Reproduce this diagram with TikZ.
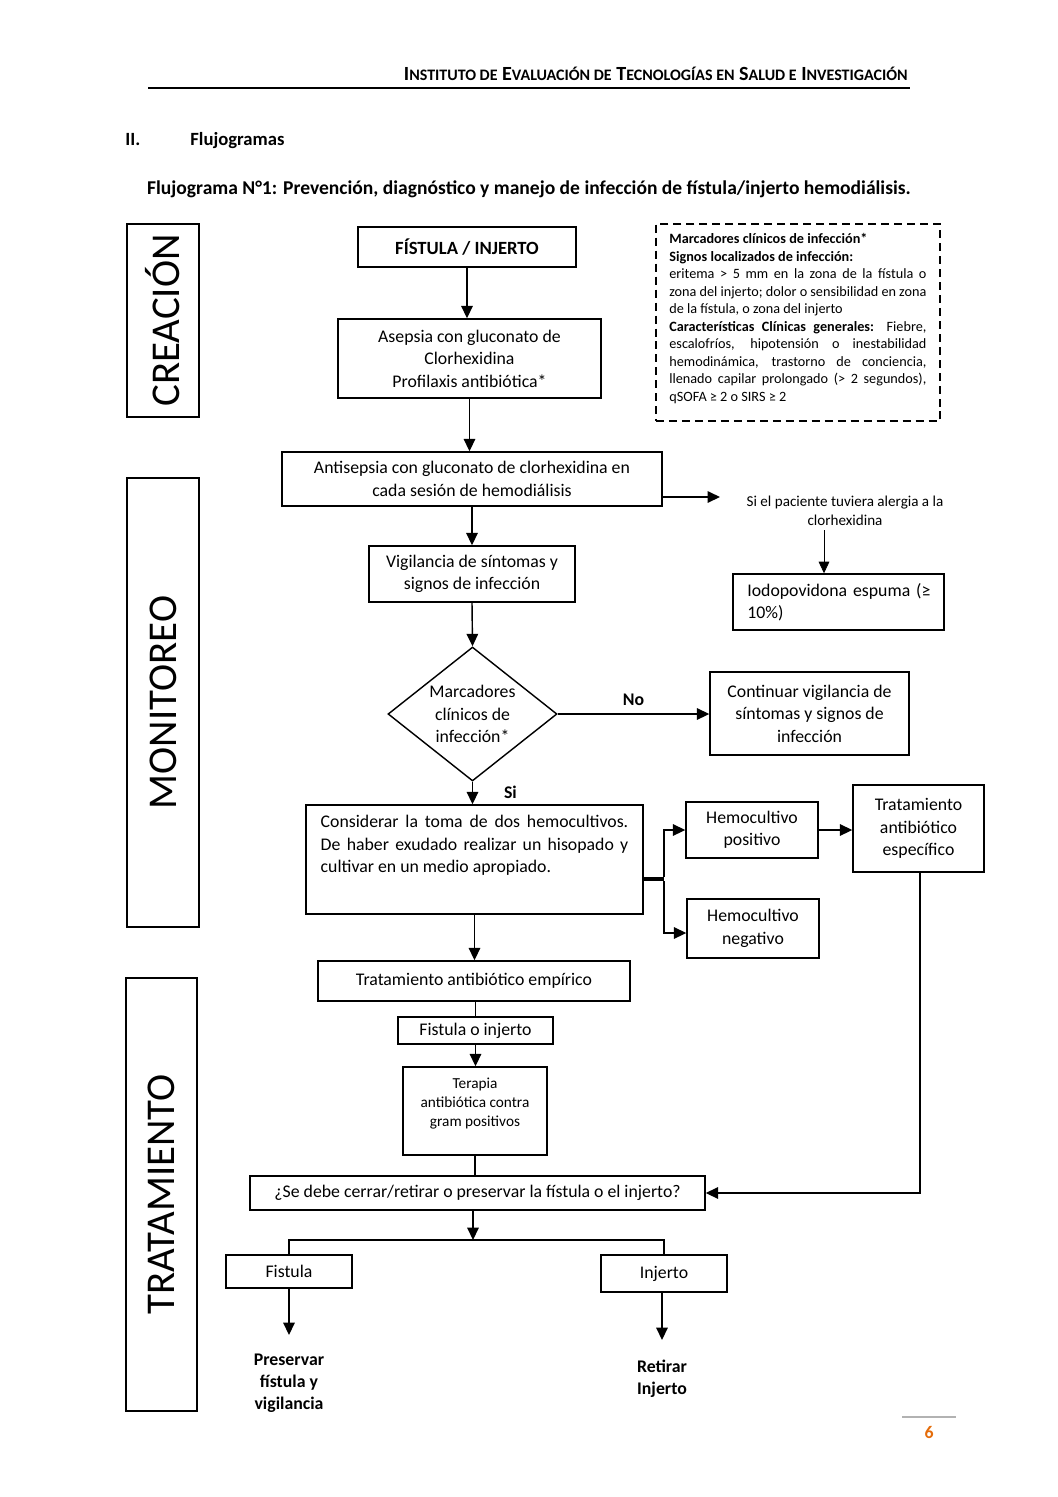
\documentclass[tikz,border=0pt]{standalone}
\usepackage{fontspec}
\setmainfont{Carlito}
\usetikzlibrary{arrows.meta,shapes.geometric,calc}
\newcommand\fsc[2]{#1{\fontsize{9}{10}\selectfont #2}}
\definecolor{pgorange}{RGB}{228,108,10}
\begin{document}
\begin{tikzpicture}[x=0.5625pt,y=-0.5625pt,
  font=\fontsize{10}{12.6}\selectfont,
  box/.style={draw, line width=0.8pt, align=center, inner sep=2pt},
  bx/.style 2 args={minimum width=#1*0.5625pt, minimum height=#2*0.5625pt},
  arr/.style={line width=0.8pt, -{Triangle[width=6.5pt,length=7pt]}},
  tarr/.style={line width=0.4pt, -{Triangle[width=6pt,length=6.5pt]}},
  ln/.style={line width=0.8pt},
  side/.style={draw, line width=0.8pt, rotate=90, font=\fontsize{23}{27}\selectfont, inner sep=0pt},
  plain/.style={align=center, inner sep=0pt},
]
\useasboundingbox (0,0) rectangle (1058,1497);

% header
\node[anchor=base east, inner sep=0pt, font=\fontsize{11.3}{12}\bfseries] (hdr) at (908,80)
 {\fsc{I}{NSTITUTO DE} \fsc{E}{VALUACIÓN DE} \fsc{T}{ECNOLOGÍAS EN} \fsc{S}{ALUD E} \fsc{I}{NVESTIGACIÓN}};
\coordinate (hl) at (148,88);
\coordinate (hr) at (910,88);
\draw[line width=1.1pt] (hl) -- (hr);
\node[anchor=base west, inner sep=0pt, font=\fontsize{10.5}{12}\bfseries] (secn) at (125,145) {II.};
\node[anchor=base west, inner sep=0pt, font=\fontsize{10.5}{12}\bfseries] (sect) at (190,145) {Flujogramas};
\node[anchor=base, inner sep=0pt, font=\fontsize{11}{13}\bfseries] (title) at (529,194)
 {Flujograma N°1: Prevención, diagnóstico y manejo de infección de fístula/injerto hemodiálisis.};

% side labels
\node[side, bx={193}{72}] (crea) at (163,320.5) {CREACIÓN};
\node[side, bx={449}{72}] (moni) at (163,702.5) {MONITOREO};
\node[side, bx={433}{71}] (trat) at (161.5,1194.5) {TRATAMIENTO};

% boxes
\node[box, bx={218}{40}, font=\fontsize{10.5}{12.6}\bfseries] (fi) at (467,247) {FÍSTULA / INJERTO};
\node[box, bx={263}{79}] (asep) at (469.5,358.5) {Asepsia con gluconato de\\Clorhexidina\\Profilaxis antibiótica*};
\node[draw, line width=0.85pt, dash pattern=on 4.5pt off 2.8pt, bx={284}{197}] (marc) at (798,322.5) {};
\node[anchor=north west, inner sep=0pt, text width=144.6pt, align=justify, font=\fontsize{8}{9.85}\selectfont] (marct) at (669,233)
 {\textbf{Marcadores clínicos de infección*}\\
  \textbf{Signos localizados de infección:}\\
  eritema > 5 mm en la zona de la fístula o zona del injerto; dolor o sensibilidad en zona de la fístula, o zona del injerto\\
  \textbf{Características Clínicas generales:} Fiebre, escalofríos, hipotensión o inestabilidad hemodinámica, trastorno de conciencia, llenado capilar prolongado (> 2 segundos), qSOFA ≥ 2 o SIRS ≥ 2};
\node[box, bx={380}{54}] (anti) at (472,479) {Antisepsia con gluconato de clorhexidina en\\cada sesión de hemodiálisis};
\node[plain, font=\fontsize{8.5}{10.8}\selectfont] (alerg) at (845,511) {Si el paciente tuviera alergia a la\\clorhexidina};
\coordinate (alergin) at (720,497);
\node[box, bx={211}{56}] (iodo) at (838.5,602) {};
\node[anchor=north west, inner sep=0pt, text width=103pt, align=justify] (iodot) at (747,583) {Iodopovidona espuma (≥ 10\%)};
\node[box, bx={206}{56}] (vig) at (472,574) {Vigilancia de síntomas y\\signos de infección};
\node[draw, line width=0.8pt, diamond, aspect=1.26, inner sep=0pt, bx={169}{134}, align=center] (dia) at (472.5,714) {Marcadores\\clínicos de\\infección*};
\node[box, bx={199}{83}] (cont) at (809.5,713.5) {Continuar vigilancia de\\síntomas y signos de\\infección};
\node[box, bx={337}{109}] (cons) at (474.5,859.5) {};
\node[anchor=north, inner sep=0pt, text width=173pt, align=justify] (const) at (474.5,815)
 {Considerar la toma de dos hemocultivos. De haber exudado realizar un hisopado y cultivar en un medio apropiado.};
\node[box, bx={132}{56}] (hpos) at (752,830) {Hemocultivo\\positivo};
\node[box, bx={132}{59}] (hneg) at (753,928.5) {Hemocultivo\\negativo};
\node[box, bx={131}{87}] (tesp) at (918.5,828.5) {Tratamiento\\antibiótico\\específico};
\node[box, bx={312}{40}] (temp) at (474,981) {Tratamiento antibiótico empírico};
\node[box, bx={155}{27}] (foi) at (475.5,1030.5) {Fistula o injerto};
\node[box, bx={144}{88}] (ter) at (475,1111) {};
\node[anchor=north, plain, font=\fontsize{8.6}{10.7}\selectfont] (tert) at (475,1078) {Terapia\\antibiótica contra\\gram positivos};
\node[box, bx={455}{34}] (sedebe) at (477.5,1193) {¿Se debe cerrar/retirar o preservar la fístula o el injerto?};
\node[box, bx={126}{33}] (fist) at (289,1271.5) {Fistula};
\node[box, bx={126}{37}] (inj) at (664,1273.5) {Injerto};
\node[plain, font=\fontsize{10}{12.4}\bfseries, anchor=north] (pres) at (289,1354) {Preservar\\fístula y\\vigilancia};
\node[plain, font=\fontsize{10}{12.4}\bfseries, anchor=north] (ret) at (662,1360) {Retirar\\Injerto};

% connectors
\draw[arr] (fi.south) -- (fi.south |- asep.north);
\draw[arr] (asep.south) -- (asep.south |- anti.north);
\draw[arr] (anti.south) -- (anti.south |- vig.north);
\draw[arr] (anti.east |- alergin) -- (alergin);
\coordinate (alergout) at (824,530);
\draw[tarr] (alergout) -- (alergout |- iodo.north);
\draw[arr] (vig.south) -- (dia.north);
\draw[arr] (dia.east) -- node[above=1pt, font=\fontsize{10}{12}\bfseries] (nolab) {No} (cont.west |- dia.east);
\draw[arr] (dia.south) -- node[right=14pt, pos=0.45, font=\fontsize{10}{12}\bfseries] (silab) {Si} (dia.south |- cons.north);
\coordinate (br) at (664,879);
\draw[line width=2.4pt] (cons.east |- br) -- (br);
\draw[arr] (664,877) |- (hpos.west);
\draw[arr] (664,881) |- (hneg.west |- 0,933);
\draw[arr] (hpos.east) -- (tesp.west |- hpos.east);
\draw[arr] (tesp.south -| 920,0) |- (sedebe.east);
\draw[arr] (cons.south) -- (cons.south |- temp.north);
\draw[ln] (temp.south -| foi.north) -- (foi.north);
\draw[arr] (foi.south) -- (foi.south |- ter.north);
\draw[ln] (ter.south) -- (ter.south |- sedebe.north);
\coordinate (split) at (473,1240);
\draw[arr] (sedebe.south -| split) -- (split);
\draw[ln] (fist.north) -- (fist.north |- split) -- (inj.north |- split) -- (inj.north);
\draw[arr] (fist.south) -- ($(pres.north)+(0,-19)$);
\draw[arr] (inj.south -| ret.north) -- ($(ret.north)+(0,-20)$);

% page number
\coordinate (pl) at (902,1417);
\coordinate (pr) at (956,1417);
\draw[gray!60, line width=1pt] (pl) -- (pr);
\node[text=pgorange, font=\fontsize{10}{12}\bfseries, inner sep=0pt] (pg) at (929,1432) {6};
\end{tikzpicture}
\end{document}
